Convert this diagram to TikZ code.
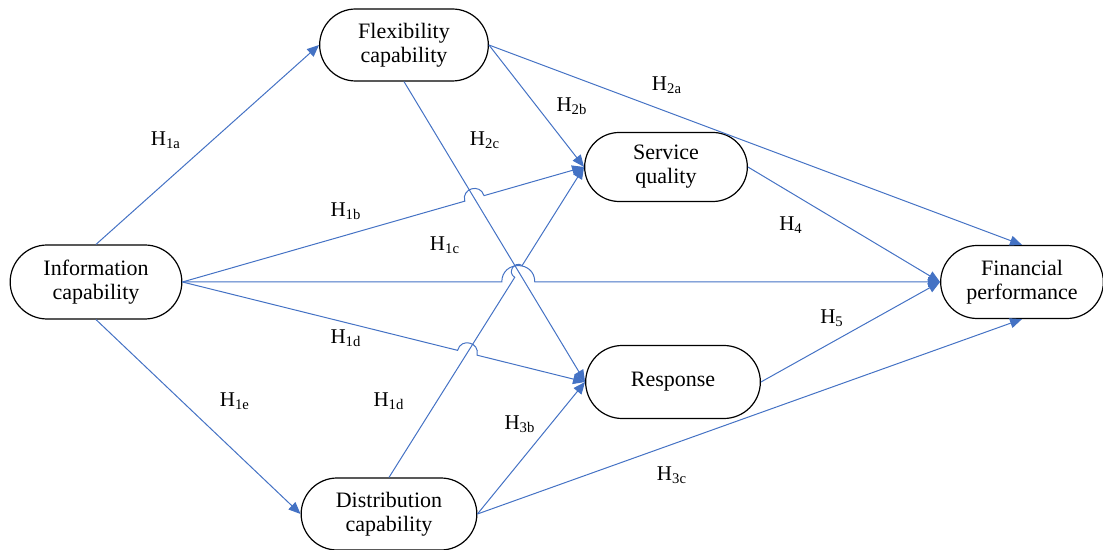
\documentclass[tikz,border=0pt]{standalone}
\usepackage{fontspec}
\setmainfont{Liberation Serif}
\usepackage{tikz}
\usetikzlibrary{arrows.meta,shapes.misc,calc,intersections}

\definecolor{linkblue}{RGB}{68,114,196}

\begin{document}
\begin{tikzpicture}[x=0.5pt,y=0.5pt,->,>={Triangle[length=6pt,width=5pt]},line width=0.5pt,
  main node/.style={rounded rectangle,draw=black,line width=0.6pt,minimum height=36pt,align=center,font=\fontsize{11}{12}\selectfont},
  hyp node/.style={inner sep=0pt,font=\fontsize{10.5}{12}\selectfont},
  hop/.style={bend left=90,looseness=1.7}]
  \useasboundingbox (0,0) rectangle (1103,-550);

  \node[main node,minimum width=92.5pt,minimum height=37pt] (info) at (96,-282) {Information\\capability};
  \node[main node,minimum width=91pt] (flex) at (404,-45) {Flexibility\\capability};
  \node[main node,minimum width=88pt,minimum height=34.5pt] (serv) at (666,-167) {Service\\quality};
  \node[main node,minimum width=88pt,minimum height=36.5pt] (fin) at (1022,-282) {Financial\\performance};
  \node[main node,minimum width=94pt,minimum height=36.5pt] (resp) at (673,-382) {Response};
  \node[main node,minimum width=94.5pt] (dist) at (389,-514) {Distribution\\capability};

  % crossings that get a hop
  \path[name path=fr] (flex.south) -- (resp.west);
  \path[name path=ds] (dist.north) -- (serv.west);
  \path[name path=is] (info.east) -- (serv.west);
  \path[name path=if] (info.east) -- (fin.west);
  \path[name path=ir] (info.east) -- (resp.west);
  \path[name intersections={of=is and fr,by=x1}];
  \path[name intersections={of=if and fr,by=x2}];
  \path[name intersections={of=if and ds,by=x3}];
  \path[name intersections={of=ir and ds,by=x4}];
  \path[name intersections={of=ds and fr,by=x5}];

  \path[every edge/.style={draw=linkblue}]
  (info.north) edge (flex.west)
  (info.south) edge (dist.west)
  (flex.south) edge (resp.west)
  (flex.east) edge (serv.west)
  (flex.east) edge (fin.north)
  (serv.east) edge (fin.west)
  (resp.east) edge (fin.west)
  (dist.east) edge (resp.west)
  (dist.east) edge (fin.south);

  \draw[linkblue] (info.east) -- ($(x1)!5pt!(info.east)$) to[hop] ($(x1)!5pt!(serv.west)$) -- (serv.west);
  \draw[linkblue] (info.east) -- ($(x3)!5pt!(info.east)$) to[hop] ($(x2)!5pt!(fin.west)$) -- (fin.west);
  \draw[linkblue] (info.east) -- ($(x4)!5pt!(info.east)$) to[hop] ($(x4)!5pt!(resp.west)$) -- (resp.west);
  \draw[linkblue] (dist.north) -- ($(x5)!3.5pt!(dist.north)$) to[hop] ($(x5)!3.5pt!(serv.west)$) -- (serv.west);

  \node[hyp node] (h1a) at (166,-140) {H\textsubscript{1a}};
  \node[hyp node] (h1b) at (346,-211) {H\textsubscript{1b}};
  \node[hyp node] (h1c) at (445,-245) {H\textsubscript{1c}};
  \node[hyp node] (h1d) at (346,-338) {H\textsubscript{1d}};
  \node[hyp node] (h1e) at (235,-401) {H\textsubscript{1e}};
  \node[hyp node] (h1dl) at (389,-401) {H\textsubscript{1d}};
  \node[hyp node] (h2a) at (667,-85) {H\textsubscript{2a}};
  \node[hyp node] (h2b) at (572,-106) {H\textsubscript{2b}};
  \node[hyp node] (h2c) at (485,-140) {H\textsubscript{2c}};
  \node[hyp node] (h3b) at (520,-424) {H\textsubscript{3b}};
  \node[hyp node] (h3c) at (672,-475) {H\textsubscript{3c}};
  \node[hyp node] (h4) at (791,-225) {H\textsubscript{4}};
  \node[hyp node] (h5) at (832,-318) {H\textsubscript{5}};
\end{tikzpicture}
\end{document}
